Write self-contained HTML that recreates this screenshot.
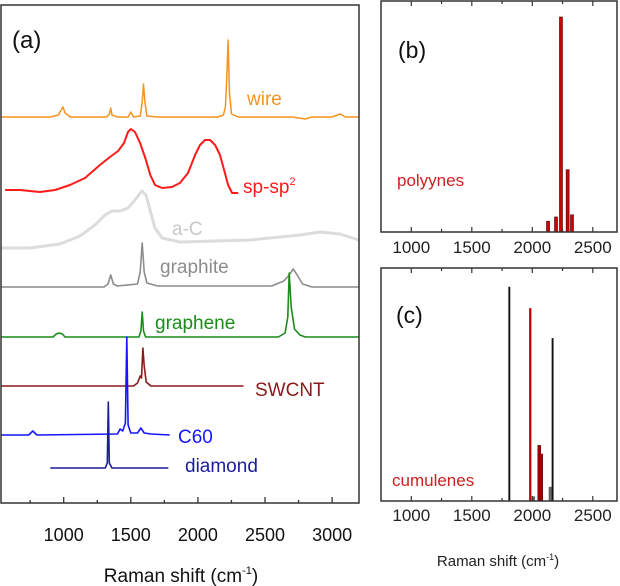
<!DOCTYPE html>
<html><head><meta charset="utf-8"><style>
body{margin:0;background:#fff}
svg{display:block;font-family:"Liberation Sans",sans-serif}
</style></head><body>
<svg id="chart" width="620" height="586" viewBox="0 0 620 586" xmlns="http://www.w3.org/2000/svg">
<g id="pa"></g>
<g id="pb"></g>
<g id="pc"></g>
</svg>
<script>
// ---- panel (a) data: wavenumber (cm-1) and intensity above baseline (a.u.)
const wireX=[533,900,960,985,995,1010,1050,1320,1340,1350,1360,1400,1480,1500,1520,1570,1585,1595,1605,1620,1700,2150,2190,2205,2215,2225,2235,2250,2300,2700,2800,2850,3000,3060,3100,3200];
const wireI=[0,0,2,8,10,4,0,0,3,9,2,0,0,5,0,1,15,33,15,1,0,0,2,10,40,77,25,3,0,0,-2,0,0,3,0,0];
const spX=[563,674,823,935,1047,1159,1270,1345,1405,1449,1479,1501,1531,1569,1608,1645,1680,1733,1807,1866,1926,1979,2016,2053,2091,2128,2165,2195,2225,2255,2300];
const spI=[0,0,-2,0,5,12,25,33,39,47,58,61,58,47,32,15,5,2,3,7,17,35,45,50,50,45,35,20,5,-3,-3];
const acX=[533,749,972,1121,1233,1308,1360,1420,1479,1531,1583,1613,1643,1680,1733,1866,2388,2761,2910,3059,3200];
const acI=[0,0,4,12,23,33,37,37,40,48,57,53,38,20,10,6,8,13,16,14,8];
const gtX=[533,1300,1330,1350,1370,1400,1550,1570,1585,1600,1620,1700,2550,2640,2680,2710,2740,2780,2850,3200];
const gtI=[0,0,3,12,3,1,3,15,44,15,4,1,1,6,12,18,12,3,0,0];
const gnX=[533,920,945,965,990,1010,1560,1575,1585,1595,1610,2600,2650,2670,2680,2695,2720,2760,2800,3200];
const gnI=[0,0,3,4,3,0,0,6,25,6,0,0,4,20,64,30,8,2,0,0];
const swX=[533,1520,1550,1570,1580,1590,1600,1615,1650,2340];
const swI=[0,0,3,10,8,38,20,4,0,0];
const c60X=[533,740,770,800,1400,1420,1440,1460,1470,1480,1500,1550,1575,1600,1650,1790];
const c60I=[0,0,4,0,1,6,4,12,98,10,2,2,7,2,1,0];
const diaX=[900,1310,1325,1332,1340,1360,1780];
const diaI=[0,0,5,66,5,0,0];
const aTicks=[1000,1500,2000,2500,3000];
// ---- panel (b) polyynes
const polyX=[2130,2196,2237,2292,2328];
const polyI=[5,7,100,29,8];
// ---- panel (c) cumulenes
const cumX=[1810,1983,2010,2057,2074,2148,2168];
const cumI=[100,90,2,26,22,6.5,76];
const cumKind=['black','red','gray','dark','dark','gray','black'];
const bcTicks=[1000,1500,2000,2500];

const NS='http://www.w3.org/2000/svg';
function mk(p,t,a){const e=document.createElementNS(NS,t);for(const k in a)e.setAttribute(k,a[k]);p.appendChild(e);return e;}
function txt(p,x,y,s,size,fill,anchor,name){const e=mk(p,'text',{x:x,y:y,'font-size':size,fill:fill,'text-anchor':anchor||'start'});e.textContent=s;


return e;}

// panel a
const pa=document.getElementById('pa');
const ax=v=>63.7+(v-1000)*0.1342;
function series(X,I,base,color,w,name){
  const pts=X.map((v,i)=>ax(v).toFixed(1)+','+(base-I[i]).toFixed(1)).join(' ');
  const e=mk(pa,'polyline',{points:pts,fill:'none',stroke:color,'stroke-width':w,'stroke-linejoin':'round'});
  
  
}
series(acX,acI,248,'#dcdcdc',3,'a-c-spectrum');
series(wireX,wireI,117,'#f7931e',1.5,'wire-spectrum');
series(spX,spI,190,'#ff1a1a',2,'sp-sp2-spectrum');
series(gtX,gtI,287,'#8c8c8c',1.6,'graphite-spectrum');
series(gnX,gnI,337,'#1a8c1a',1.6,'graphene-spectrum');
series(swX,swI,386,'#8b1a1a',1.6,'swcnt-spectrum');
series(diaX,diaI,468,'#1c1c9c',1.6,'diamond-spectrum');
series(c60X,c60I,435,'#1515ff',1.6,'c60-spectrum');
const fa=mk(pa,'rect',{x:1,y:5,width:358,height:498,fill:'none',stroke:'#333',"stroke-width":1.5});


aTicks.forEach(v=>{mk(pa,'line',{x1:ax(v),x2:ax(v),y1:503,y2:497,stroke:'#333','stroke-width':1.3});
 mk(pa,'line',{x1:ax(v-250),x2:ax(v-250),y1:503,y2:500,stroke:'#333','stroke-width':1.3});
 txt(pa,ax(v),541,String(v),18,'#111','middle','x-tick-label-a');});
txt(pa,12,48,'(a)',24,'#111','start','panel-a-label');
txt(pa,247,105,'wire',19,'#f7931e','start','wire-label');
const sl=txt(pa,243,193,'sp-sp',19,'#ff1a1a','start','sp-sp2-label');
const sup=mk(sl,'tspan',{dy:-8,'font-size':11});sup.textContent='2';
txt(pa,172,235,'a-C',19,'#c8c8c8','start','a-c-label');
txt(pa,160,273,'graphite',19,'#8c8c8c','start','graphite-label');
txt(pa,155,329,'graphene',19,'#1a8c1a','start','graphene-label');
txt(pa,255,396,'SWCNT',19,'#8b1a1a','start','swcnt-label');
txt(pa,178,443,'C60',19,'#1515ff','start','c60-label');
txt(pa,185,472,'diamond',19,'#1c1c9c','start','diamond-label');
const xt=txt(pa,181,582,'Raman shift (cm',19,'#111','middle','x-axis-title-a');
const s1=mk(xt,'tspan',{dy:-8,'font-size':11});s1.textContent='-1';
const s2=mk(xt,'tspan',{dy:8});s2.textContent=')';

// panels b,c
const bx=v=>411.3+(v-1000)*0.121;
function frame(g,top,bot,name){
  const f=mk(g,'rect',{x:381,y:top,width:236,height:bot-top,fill:'none',stroke:'#333','stroke-width':1.5});
  
  
  bcTicks.forEach(v=>{
    [[bot,bot-5],[top,top+5]].forEach(t=>mk(g,'line',{x1:bx(v),x2:bx(v),y1:t[0],y2:t[1],stroke:'#333','stroke-width':1.2}));
    [[bot,bot-3],[top,top+3]].forEach(t=>mk(g,'line',{x1:bx(v+250),x2:bx(v+250),y1:t[0],y2:t[1],stroke:'#333','stroke-width':1.2}));
  });
  mk(g,'line',{x1:bx(750),x2:bx(750),y1:bot,y2:bot-3,stroke:'#333'});
}
const pb=document.getElementById('pb');
polyX.forEach((v,i)=>{const h=polyI[i]*2.15;
 const r=mk(pb,'rect',{x:bx(v)-1.5,y:232-h,width:3,height:h,fill:'#d00000',stroke:'#400','stroke-width':0.6});
 
 });
frame(pb,1,232,'panel-b-frame');
bcTicks.forEach(v=>txt(pb,bx(v),253,String(v),17,'#222','middle','x-tick-label-b'));
txt(pb,398,58,'(b)',23,'#111','start','panel-b-label');
txt(pb,397,186,'polyynes',17,'#d02020','start','polyynes-label');

const pc=document.getElementById('pc');
const cols={black:['#111','#111',1.5],red:['#c00000','#c00000',1.8],gray:['#666','#444',2.5],dark:['#a00000','#300',3]};
cumX.forEach((v,i)=>{const h=cumI[i]*2.14;const c=cols[cumKind[i]];
 const r=mk(pc,'rect',{x:bx(v)-c[2]/2,y:501-h,width:c[2],height:h,fill:c[0],stroke:c[1],'stroke-width':0.4});
 
 });
frame(pc,268,501,'panel-c-frame');
bcTicks.forEach(v=>txt(pc,bx(v),521,String(v),17,'#222','middle','x-tick-label-c'));
txt(pc,396,323,'(c)',23,'#111','start','panel-c-label');
txt(pc,392,486,'cumulenes',17,'#d02020','start','cumulenes-label');
const ct=txt(pc,498,566,'Raman shift (cm',15,'#222','middle','x-axis-title-c');
const c1=mk(ct,'tspan',{dy:-6,'font-size':9});c1.textContent='-1';
const c2=mk(ct,'tspan',{dy:6});c2.textContent=')';
</script>
</body></html>
